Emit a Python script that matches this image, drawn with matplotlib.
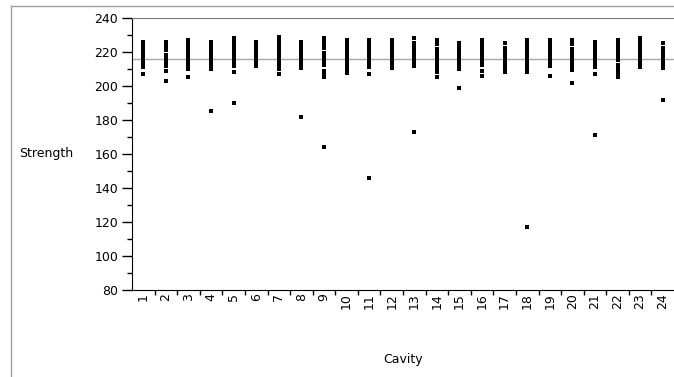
import matplotlib.pyplot as plt
from matplotlib.lines import Line2D
from matplotlib.ticker import MultipleLocator, FixedLocator

plt.rcParams['font.family'] = ['DejaVu Sans']

# strength readings per cavity
c1 = [226, 225, 224, 223, 221, 220, 219, 218, 217, 216, 215, 214, 213, 212, 211, 207]
c2 = [226, 225, 224, 223, 222, 221, 218.5, 217.5, 216.5, 215.5, 214.5, 213.5, 212.5, 211.5, 209, 203]
c3 = [227, 226, 225, 224, 223, 222, 221, 220, 219, 218, 217, 216, 215, 214, 213, 212, 211, 210, 205]
c4 = [226, 225, 224, 223, 222, 221, 220, 219.5, 217, 216, 215, 214, 213, 212, 211, 210, 185]
c5 = [228, 227, 226, 225, 224, 223, 222, 221, 220, 219, 218, 217, 216, 215, 214, 213, 212, 208.5, 190]
c6 = [226, 223.5, 222.5, 221.5, 220.5, 219.5, 218.5, 217.5, 216.5, 215.5, 214.5, 213.5, 212.5, 211.5]
c7 = [229, 228, 227, 226, 225, 224, 223, 222, 221, 220, 219, 218, 217, 216, 215, 214, 213, 212, 211, 210, 207]
c8 = [226, 223.5, 222.5, 221.5, 220.5, 219.5, 218.5, 217.5, 216.5, 215.5, 214.5, 213.5, 212.5, 211.5, 210.5, 182]
c9 = [228, 227, 226, 225, 224, 223, 222.5, 219.5, 218.5, 217.5, 216.5, 215.5, 214.5, 213.5, 212.5, 209, 207.5, 205, 164]
c10 = [227, 224.5, 223.5, 221, 220, 219, 218, 217, 216, 215, 214, 213, 210.5, 209.5, 208.5, 207.5]
c11 = [227, 226, 225, 224, 223, 222, 221, 220, 219, 217, 216, 215, 214, 213, 212, 211, 207, 146]
c12 = [227, 224.5, 223.5, 222.5, 221.5, 220.5, 219.5, 218.5, 217.5, 216.5, 215.5, 214.5, 213.5, 212.5, 211.5, 210.5]
c13 = [228, 225.5, 224.5, 223.5, 222.5, 221.5, 220.5, 219.5, 218.5, 217.5, 216.5, 215.5, 214.5, 213.5, 212.5, 211.5, 173]
c14 = [227, 224.5, 222, 221, 220, 219, 218, 217, 216, 215, 214, 212.5, 211.5, 210.5, 208, 205]
c15 = [225, 224, 223, 222, 221, 220, 219, 218, 217, 216, 215, 214, 213, 212, 211, 210, 199]
c16 = [227, 226, 225, 224, 223, 220.5, 219.5, 218.5, 217.5, 216.5, 215.5, 214.5, 213.5, 212.5, 209, 206]
c17 = [225, 222.5, 221.5, 220.5, 219.5, 218.5, 217.5, 216.5, 215.5, 214.5, 213.5, 212.5, 211.5, 210.5, 209.5, 208.5]
c18 = [227, 224.5, 223.5, 222.5, 221.5, 220.5, 219.5, 218.5, 217.5, 216.5, 215.5, 214.5, 213.5, 212.5, 211.5, 210.5, 209.5, 208.5, 117]
c19 = [227, 224.5, 223.5, 222.5, 221.5, 220.5, 219.5, 218.5, 217.5, 216.5, 215.5, 214.5, 213.5, 212.5, 211.5, 206]
c20 = [227, 224.5, 222, 221, 220, 219, 218, 217, 216, 215, 214, 213, 212, 209.5, 202]
c21 = [226, 225, 224, 223, 222, 221, 220, 219, 218, 217, 216, 215, 214, 213, 212, 211, 207, 171]
c22 = [227, 224.5, 223.5, 221, 220, 219, 218, 217, 216, 215, 212.5, 211.5, 210.5, 209.5, 207, 205]
c23 = [228, 227, 226, 225, 224, 223, 222, 221, 220, 219, 218, 217, 216, 215, 214, 213, 212, 211]
c24 = [225, 222.5, 220.5, 219.5, 218.5, 217.5, 216.5, 215.5, 214.5, 213.5, 212.5, 211.5, 210.5, 192]

cavities = list(range(1, 25))
strength = [c1, c2, c3, c4, c5, c6, c7, c8, c9, c10, c11, c12,
            c13, c14, c15, c16, c17, c18, c19, c20, c21, c22, c23, c24]
grand_mean = 216

fig = plt.figure(figsize=(6.74, 3.77), dpi=100)
ax = fig.add_axes([132 / 674, 87 / 377, 542 / 674, 272 / 377])

# flat little rectangle marker like the original
rect = [(-1, -0.72), (1, -0.72), (1, 0.72), (-1, 0.72), (-1, -0.72)]
for cav, vals in zip(cavities, strength):
    ax.plot([cav] * len(vals), vals, linestyle='none', marker=rect,
            markersize=3.2, markeredgewidth=0, color='black', zorder=3)

ax.axhline(grand_mean, color='#a8a8a8', lw=1, zorder=1)

ax.set_xlim(0.5, 24.5)
ax.set_ylim(80, 240)

ax.yaxis.set_major_locator(MultipleLocator(20))
ax.yaxis.set_minor_locator(MultipleLocator(10))
ax.tick_params(axis='y', which='major', length=7.5, width=1, pad=2.5,
               labelsize=9, direction='out')
ax.tick_params(axis='y', which='minor', length=3.8, width=1, direction='out')

ax.xaxis.set_major_locator(FixedLocator(cavities))
ax.set_xticklabels([str(c) for c in cavities], rotation=90, va='top')
ax.xaxis.set_minor_locator(FixedLocator([c + 0.5 for c in cavities[:-1]]))
ax.tick_params(axis='x', which='major', length=0, pad=2, labelsize=9)
ax.tick_params(axis='x', which='minor', length=3.8, width=1, direction='out')

ax.spines['right'].set_visible(False)
ax.spines['top'].set_color('#777777')
ax.spines['left'].set_color('black')
ax.spines['bottom'].set_color('black')

fig.text(19 / 674, (377 - 154) / 377, 'Strength', ha='left', va='center', fontsize=9)
fig.text(403 / 674, (377 - 360) / 377, 'Cavity', ha='center', va='center', fontsize=9)

# outer frame, cut off at right and bottom
fig.add_artist(Line2D([10.5 / 674, 10.5 / 674], [0, 1 - 5.5 / 377],
                      transform=fig.transFigure, color='#a0a0a0', lw=1))
fig.add_artist(Line2D([10.5 / 674, 1], [1 - 5.5 / 377, 1 - 5.5 / 377],
                      transform=fig.transFigure, color='#a0a0a0', lw=1))

fig.savefig('out.png', dpi=100)
